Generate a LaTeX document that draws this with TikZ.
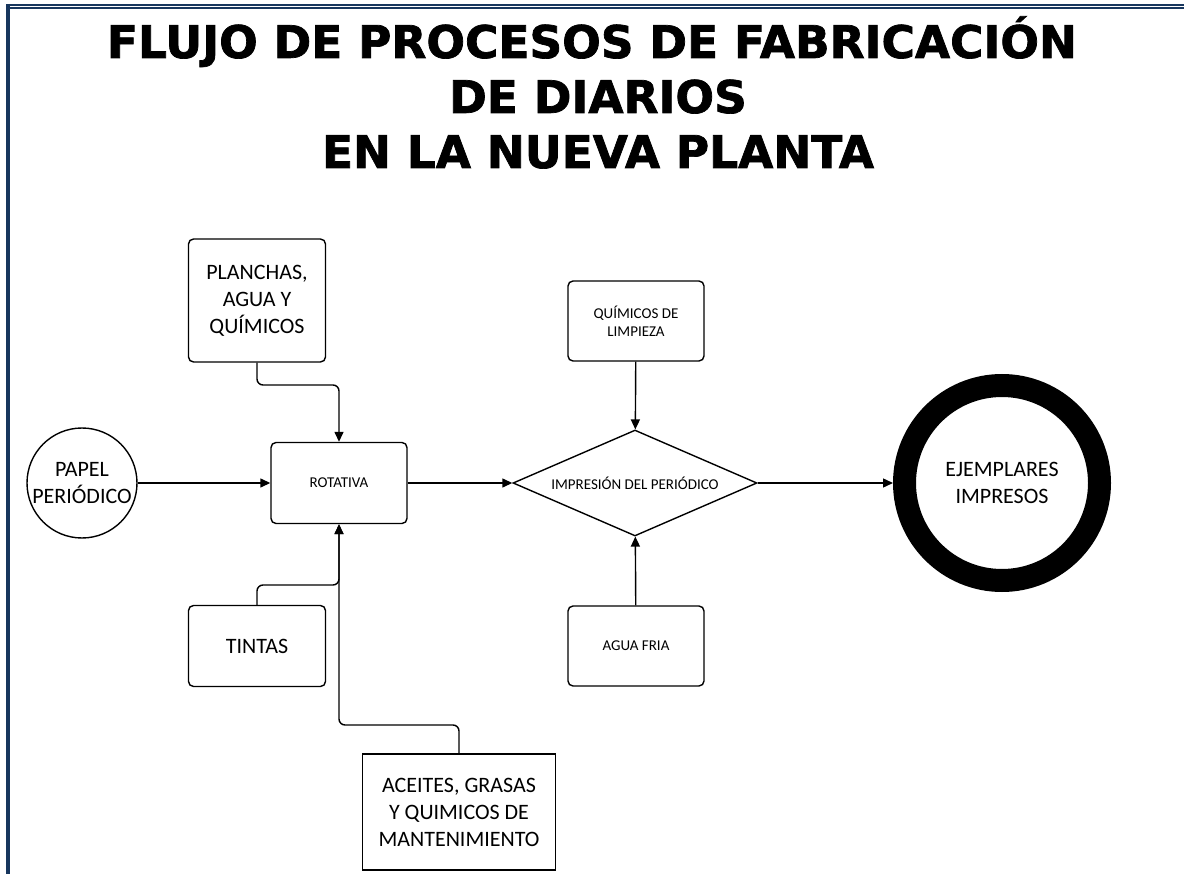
\documentclass[tikz,border=0pt]{standalone}
\usepackage{fontspec}
\setmainfont{Carlito}
\newfontfamily\titlefont{DejaVu Sans}[BoldFeatures={FakeBold=1.6}]
\usetikzlibrary{shapes.geometric, arrows.meta, positioning}
\definecolor{frameblue}{RGB}{23, 54, 93}

\begin{document}
\begin{tikzpicture}[x=1pt, y=-1pt,
    bigtxt/.style={font=\fontsize{22}{27}\selectfont, align=center},
    smalltxt/.style={font=\fontsize{15}{18}\selectfont, align=center},
    titletxt/.style={font=\titlefont\bfseries\fontsize{45}{55}\selectfont, anchor=base, xscale=1.01, transform shape},
    rbox/.style={rectangle, draw, line width=1.4pt, rounded corners=5pt, inner sep=0pt},
    sbox/.style={rectangle, draw, line width=1.4pt, inner sep=0pt},
    flow/.style={-{Triangle[length=10pt, width=9pt]}, line width=1.4pt, rounded corners=6pt},
    frame/.style={frameblue}
]

%% Page size and frame
\useasboundingbox (0,0) rectangle (1184,874);
\draw[frame, line width=4pt] (8,4) -- (8,874);
\draw[frame, line width=2pt] (6,5) -- (1184,5);
\draw[frame, line width=2pt] (10,8.5) -- (1184,8.5);

%% Title
\node[titletxt] (title1) at (592,58) {FLUJO DE PROCESOS DE FABRICACIÓN};
\node[titletxt] (title2) at (598,113) {DE DIARIOS};
\node[titletxt] (title3) at (598,168) {EN LA NUEVA PLANTA};

%% Main line
\node[circle, draw, line width=1.4pt, minimum size=110pt, inner sep=0pt, bigtxt] (papel) at (82,483) {PAPEL\\PERIÓDICO};
\node[rbox, smalltxt, minimum width=136pt, minimum height=81pt] (rotativa) at (339,483) {ROTATIVA};
\node[diamond, draw, line width=1.4pt, aspect=2.3, minimum width=244pt, minimum height=106pt, inner sep=0pt, smalltxt] (impresion) at (635,483) {IMPRESIÓN DEL PERIÓDICO};
\node[circle, draw, line width=23pt, minimum size=195pt, inner sep=0pt, bigtxt] (ejemplares) at (1002,483) {EJEMPLARES\\IMPRESOS};

%% Inputs
\node[rbox, bigtxt, minimum width=137pt, minimum height=123pt] (planchas) at (257,300.5) {PLANCHAS,\\AGUA Y\\QUÍMICOS};
\node[rbox, bigtxt, minimum width=137pt, minimum height=81pt] (tintas) at (257,646) {TINTAS};
\node[sbox, bigtxt, minimum width=193pt, minimum height=116pt] (aceites) at (459,812) {ACEITES, GRASAS\\Y QUIMICOS DE\\MANTENIMIENTO};
\node[rbox, smalltxt, minimum width=136pt, minimum height=80pt] (limpieza) at (636,321) {QUÍMICOS DE\\LIMPIEZA};
\node[rbox, smalltxt, minimum width=136pt, minimum height=80pt] (aguafria) at (636,646) {AGUA FRIA};

%% Bend points
\coordinate (jtop) at (339,385);
\coordinate (jmid) at (339,585);
\coordinate (jlow) at (339,725);

%% Connectors
\draw[flow] (papel) -- (rotativa);
\draw[flow] (rotativa) -- (impresion);
\draw[flow] (impresion) -- (ejemplares);
\draw[flow] (planchas.south) |- (jtop) -- (rotativa.north);
\draw[flow] (tintas.north) |- (jmid) -- (rotativa.south);
\draw[flow] (aceites.north) |- (jlow) -- (rotativa.south);
\draw[flow] (limpieza) -- (impresion);
\draw[flow] (aguafria) -- (impresion);

\end{tikzpicture}
\end{document}
